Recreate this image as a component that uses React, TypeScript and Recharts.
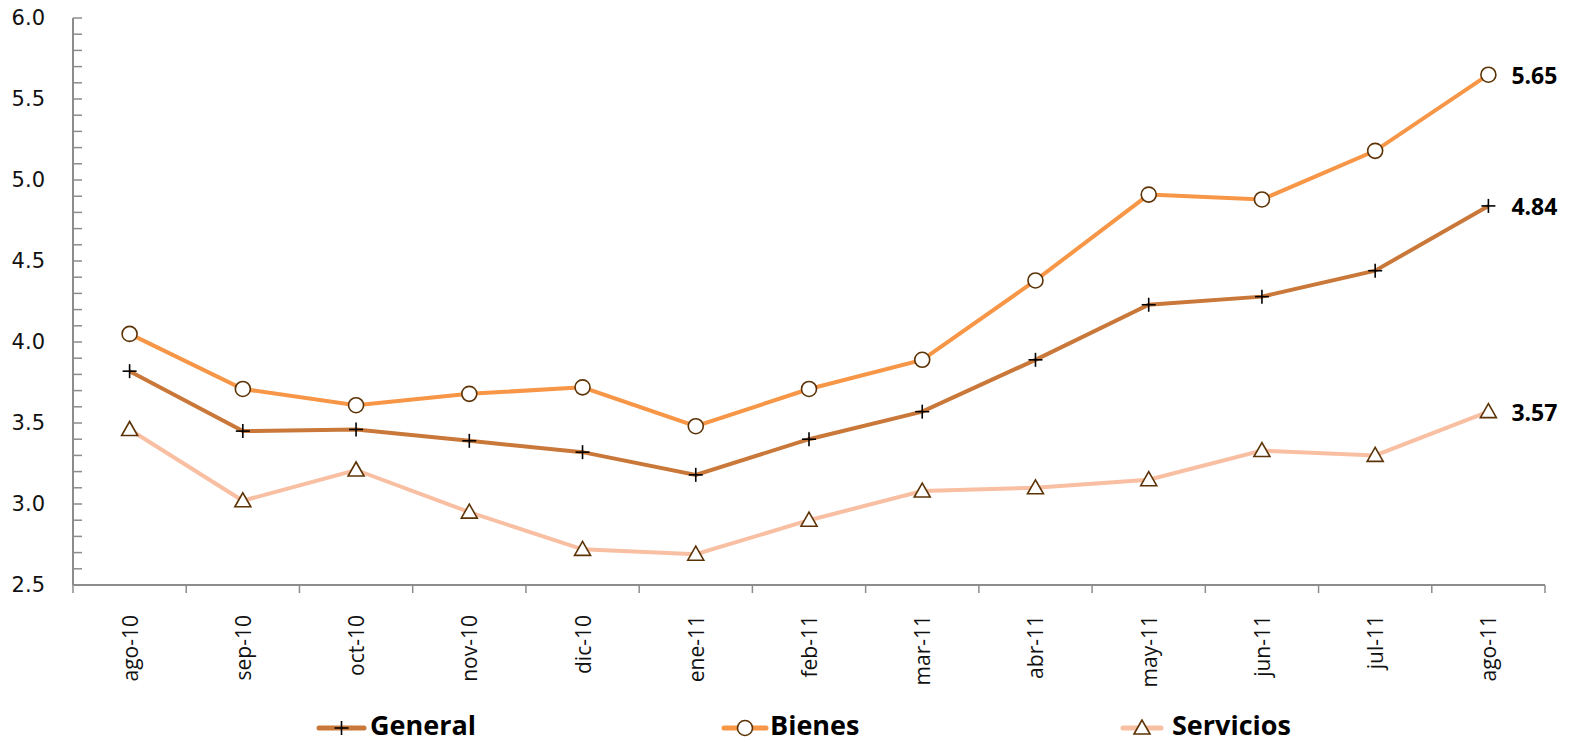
import React from 'react';
import { LineChart, Line, XAxis, YAxis } from 'recharts';

const CATEGORIES = ['ago-10', 'sep-10', 'oct-10', 'nov-10', 'dic-10', 'ene-11', 'feb-11', 'mar-11', 'abr-11', 'may-11', 'jun-11', 'jul-11', 'ago-11'];
const GENERAL = [3.82, 3.45, 3.46, 3.39, 3.32, 3.18, 3.4, 3.57, 3.89, 4.23, 4.28, 4.44, 4.84];
const BIENES = [4.05, 3.71, 3.61, 3.68, 3.72, 3.48, 3.71, 3.89, 4.38, 4.91, 4.88, 5.18, 5.65];
const SERVICIOS = [3.46, 3.02, 3.21, 2.95, 2.72, 2.69, 2.9, 3.08, 3.1, 3.15, 3.33, 3.3, 3.57];
const Y_TICKS = [2.5, 2.6, 2.7, 2.8, 2.9, 3.0, 3.1, 3.2, 3.3, 3.4, 3.5, 3.6, 3.7, 3.8, 3.9, 4.0, 4.1, 4.2, 4.3, 4.4, 4.5, 4.6, 4.7, 4.8, 4.9, 5.0, 5.1, 5.2, 5.3, 5.4, 5.5, 5.6, 5.7, 5.8, 5.9, 6.0];

const data = CATEGORIES.map((month, i) => ({
  month,
  general: GENERAL[i],
  bienes: BIENES[i],
  servicios: SERVICIOS[i],
}));

const COLORS = { general: '#C97839', bienes: '#F79646', servicios: '#F8BFA2' };
const MARKER_STROKE = '#5C3306';
const AXIS_COLOR = '#8c8c8c';
const HALF_BAND = 56.6;
const LAST = CATEGORIES.length - 1;

const PlusMark = ({ cx, cy }: any) => (
  <g>
    <line x1={cx - 7} y1={cy} x2={cx + 7} y2={cy} stroke="#000" strokeWidth={1.6} />
    <line x1={cx} y1={cy - 7} x2={cx} y2={cy + 7} stroke="#000" strokeWidth={1.6} />
  </g>
);

const CircleMark = ({ cx, cy }: any) => (
  <circle cx={cx} cy={cy} r={7.5} fill="#fff" stroke={MARKER_STROKE} strokeWidth={1.6} />
);

const TriangleMark = ({ cx, cy }: any) => (
  <polygon
    points={`${cx},${cy - 8} ${cx - 8},${cy + 6} ${cx + 8},${cy + 6}`}
    fill="#fff"
    stroke={MARKER_STROKE}
    strokeWidth={1.6}
  />
);

const lastLabel = (props: any) => {
  const { x, y, value, index } = props;
  if (index !== LAST) return null;
  return (
    <text x={x + 23} y={y} dominantBaseline="central" fontFamily="'Open Sans'" fontWeight={700} fontSize={23} fill="#000">
      {Number(value).toFixed(2)}
    </text>
  );
};

const YTick = ({ x, y, payload }: any) => {
  const v = payload.value;
  const major = Math.round(v * 10) % 5 === 0;
  return (
    <g>
      <line x1={x} y1={y} x2={x + 9} y2={y} stroke={AXIS_COLOR} strokeWidth={1.5} />
      {major && (
        <text x={x - 28} y={y} textAnchor="end" dominantBaseline="central" fontFamily="'DejaVu Sans'" fontSize={21} fill="#111">
          {v.toFixed(1)}
        </text>
      )}
    </g>
  );
};

const XTick = ({ x, y, payload, index }: any) => (
  <g>
    <line x1={x - HALF_BAND} y1={y} x2={x - HALF_BAND} y2={y + 8} stroke={AXIS_COLOR} strokeWidth={1.5} />
    {index === LAST && (
      <line x1={x + HALF_BAND} y1={y} x2={x + HALF_BAND} y2={y + 8} stroke={AXIS_COLOR} strokeWidth={1.5} />
    )}
    <text
      x={x}
      y={y + 30}
      transform={`rotate(-90, ${x}, ${y + 30})`}
      textAnchor="end"
      dominantBaseline="central"
      fontFamily="'Open Sans'"
      fontSize={21}
      fill="#111"
    >
      {payload.value}
    </text>
  </g>
);

const LEGEND = [
  { name: 'General', color: COLORS.general, Mark: PlusMark, x1: 319, x2: 364, tx: 370 },
  { name: 'Bienes', color: COLORS.bienes, Mark: CircleMark, x1: 724, x2: 766, tx: 770 },
  { name: 'Servicios', color: COLORS.servicios, Mark: TriangleMark, x1: 1123, x2: 1161, tx: 1172 },
];

const App: React.FC = () => (
  <div style={{ position: 'absolute', left: 0, top: 0, width: 1581, height: 742, background: '#fff' }}>
    <LineChart width={1581} height={742} data={data} margin={{ top: 18, right: 36, left: 0, bottom: 47 }}>
      <XAxis
        dataKey="month"
        interval={0}
        padding={{ left: HALF_BAND, right: HALF_BAND }}
        height={110}
        tickSize={0}
        tickMargin={0}
        tick={<XTick />}
        stroke={AXIS_COLOR}
        strokeWidth={2}
      />
      <YAxis
        domain={[2.5, 6.0]}
        ticks={Y_TICKS}
        interval={0}
        width={73}
        tickSize={0}
        tickMargin={0}
        tick={<YTick />}
        stroke={AXIS_COLOR}
        strokeWidth={2}
      />
      <Line dataKey="servicios" stroke={COLORS.servicios} strokeWidth={4} dot={<TriangleMark />} activeDot={false} label={lastLabel} isAnimationActive={false} />
      <Line dataKey="general" stroke={COLORS.general} strokeWidth={4} dot={<PlusMark />} activeDot={false} label={lastLabel} isAnimationActive={false} />
      <Line dataKey="bienes" stroke={COLORS.bienes} strokeWidth={4} dot={<CircleMark />} activeDot={false} label={lastLabel} isAnimationActive={false} />
    </LineChart>
    <svg width={1581} height={42} style={{ position: 'absolute', left: 0, top: 700 }}>
      {LEGEND.map(({ name, color, Mark, x1, x2, tx }) => (
        <g key={name}>
          <line x1={x1} y1={28} x2={x2} y2={28} stroke={color} strokeWidth={5} strokeLinecap="round" />
          <Mark cx={(x1 + x2) / 2} cy={28} />
          <text x={tx} y={35} fontFamily="'Open Sans'" fontWeight={700} fontSize={27} fill="#000">
            {name}
          </text>
        </g>
      ))}
    </svg>
  </div>
);

export default App;
